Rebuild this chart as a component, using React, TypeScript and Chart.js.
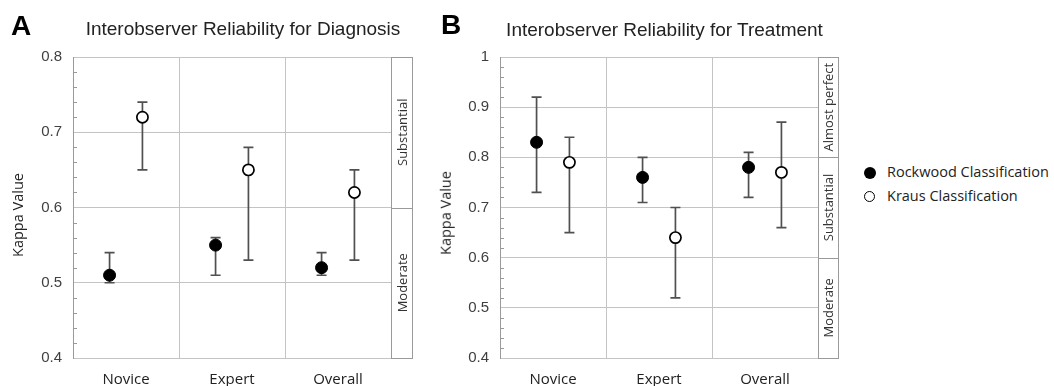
import React, { useEffect, useRef } from 'react';
import { Chart, registerables } from 'chart.js';

Chart.register(...registerables);

// ---------- data ----------
const categories = ['Novice', 'Expert', 'Overall'];
const seriesNames = ['Rockwood Classification', 'Kraus Classification'];

const diagRockwood = [0.51, 0.55, 0.52];
const diagRockwoodLow = [0.5, 0.51, 0.51];
const diagRockwoodHigh = [0.54, 0.56, 0.54];
const diagKraus = [0.72, 0.65, 0.62];
const diagKrausLow = [0.65, 0.53, 0.53];
const diagKrausHigh = [0.74, 0.68, 0.65];

const treatRockwood = [0.83, 0.76, 0.78];
const treatRockwoodLow = [0.73, 0.71, 0.72];
const treatRockwoodHigh = [0.92, 0.8, 0.81];
const treatKraus = [0.79, 0.64, 0.77];
const treatKrausLow = [0.65, 0.52, 0.66];
const treatKrausHigh = [0.84, 0.7, 0.87];

const diagYTicks = [0.4, 0.5, 0.6, 0.7, 0.8];
const treatYTicks = [0.4, 0.5, 0.6, 0.7, 0.8, 0.9, 1];

const diagBandLabels = ['Moderate', 'Substantial'];
const diagBandEdges = [0.4, 0.6, 0.8];
const treatBandLabels = ['Moderate', 'Substantial', 'Almost perfect'];
const treatBandEdges = [0.4, 0.6, 0.8, 1.0];

// ---------- styles ----------
const GRID = '#c4c4c4';
const AXIS = '#9a9a9a';
const BAR = '#505050';
const SANS = '"Liberation Sans", Arial, sans-serif';
const CAL = '"Open Sans", sans-serif';
const GROUP_OFFSET = 0.155;

const errorBarsPlugin = {
  id: 'errorBars',
  beforeDatasetsDraw(chart: any) {
    const ctx = chart.ctx;
    const y = chart.scales.y;
    ctx.save();
    ctx.strokeStyle = BAR;
    ctx.lineWidth = 1.7;
    chart.data.datasets.forEach((ds: any, di: number) => {
      const meta = chart.getDatasetMeta(di);
      meta.data.forEach((pt: any, i: number) => {
        const x = pt.x;
        const yl = y.getPixelForValue(ds.errLow[i]);
        const yh = y.getPixelForValue(ds.errHigh[i]);
        ctx.beginPath();
        ctx.moveTo(x, yl);
        ctx.lineTo(x, yh);
        ctx.moveTo(x - 5, yl);
        ctx.lineTo(x + 5, yl);
        ctx.moveTo(x - 5, yh);
        ctx.lineTo(x + 5, yh);
        ctx.stroke();
      });
    });
    ctx.restore();
  },
};

const minorTicksPlugin = {
  id: 'minorTicks',
  afterDraw(chart: any, _args: any, opts: any) {
    const ctx = chart.ctx;
    const y = chart.scales.y;
    const left = chart.chartArea.left;
    ctx.save();
    ctx.strokeStyle = AXIS;
    ctx.lineWidth = 1;
    const n = Math.round((y.max - y.min) / opts.step);
    for (let k = 1; k < n; k++) {
      if (k % 5 === 0) continue;
      const py = Math.round(y.getPixelForValue(y.min + k * opts.step)) + 0.5;
      ctx.beginPath();
      ctx.moveTo(left, py);
      ctx.lineTo(left + 4, py);
      ctx.stroke();
    }
    ctx.restore();
  },
};

const bandsPlugin = {
  id: 'bands',
  afterDraw(chart: any, _args: any, opts: any) {
    const ctx = chart.ctx;
    const y = chart.scales.y;
    const { right, top, bottom } = chart.chartArea;
    const w = opts.width;
    ctx.save();
    ctx.strokeStyle = AXIS;
    ctx.lineWidth = 1;
    const x0 = Math.round(right) + 0.5;
    ctx.strokeRect(x0, Math.round(top) + 0.5, w, Math.round(bottom) - Math.round(top));
    opts.edges.forEach((e: number) => {
      const py = Math.round(y.getPixelForValue(e)) + 0.5;
      ctx.beginPath();
      ctx.moveTo(x0, py);
      ctx.lineTo(x0 + w, py);
      ctx.stroke();
    });
    ctx.fillStyle = '#333';
    ctx.font = `13px ${CAL}`;
    ctx.textAlign = 'center';
    ctx.textBaseline = 'middle';
    opts.labels.forEach((lab: string, i: number) => {
      const cy = (y.getPixelForValue(opts.edges[i]) + y.getPixelForValue(opts.edges[i + 1])) / 2;
      ctx.save();
      ctx.translate(x0 + w / 2 + 1, cy);
      ctx.rotate(-Math.PI / 2);
      ctx.fillText(lab, 0, 0);
      ctx.restore();
    });
    ctx.restore();
  },
};

type PanelProps = {
  left: number;
  width: number;
  yAxisWidth: number;
  plotRight: number;
  bandWidth: number;
  yMin: number;
  yMax: number;
  yTicks: number[];
  rock: number[];
  rockLow: number[];
  rockHigh: number[];
  kraus: number[];
  krausLow: number[];
  krausHigh: number[];
  bandLabels: string[];
  bandEdges: number[];
};

function Panel(p: PanelProps) {
  const ref = useRef<HTMLCanvasElement | null>(null);
  useEffect(() => {
    if (!ref.current) return;
    const chart = new Chart(ref.current, {
      type: 'scatter',
      data: {
        datasets: [
          {
            label: seriesNames[0],
            data: p.rock.map((v, i) => ({ x: i - GROUP_OFFSET, y: v })),
            errLow: p.rockLow,
            errHigh: p.rockHigh,
            pointRadius: 6,
            pointBackgroundColor: '#000',
            pointBorderColor: '#000',
            pointBorderWidth: 1,
          } as any,
          {
            label: seriesNames[1],
            data: p.kraus.map((v, i) => ({ x: i + GROUP_OFFSET, y: v })),
            errLow: p.krausLow,
            errHigh: p.krausHigh,
            pointRadius: 5.6,
            pointBackgroundColor: '#fff',
            pointBorderColor: '#000',
            pointBorderWidth: 1.7,
          } as any,
        ],
      },
      options: {
        responsive: false,
        animation: false,
        devicePixelRatio: 1,
        layout: { padding: { left: 0, right: p.width - p.plotRight, top: 57, bottom: 0 } },
        plugins: {
          legend: { display: false },
          tooltip: { enabled: false },
          minorTicks: { step: 0.02 },
          bands: { width: p.bandWidth, labels: p.bandLabels, edges: p.bandEdges },
        } as any,
        scales: {
          x: {
            type: 'linear',
            min: -0.5,
            max: 2.5,
            afterBuildTicks: (s: any) => {
              s.ticks = categories.map((_, i) => ({ value: i }));
            },
            afterFit: (s: any) => {
              s.height = 28;
            },
            ticks: {
              callback: (v: any) => categories[Math.round(v)],
              font: { family: CAL, size: 15 },
              color: '#222',
              padding: 13,
              autoSkip: false,
              maxRotation: 0,
            },
            grid: { offset: true, color: GRID, drawTicks: false, lineWidth: 1 },
            border: { display: false },
          },
          y: {
            type: 'linear',
            min: p.yMin,
            max: p.yMax,
            afterBuildTicks: (s: any) => {
              s.ticks = p.yTicks.map((v) => ({ value: v }));
            },
            afterFit: (s: any) => {
              s.width = p.yAxisWidth;
            },
            ticks: {
              font: { family: SANS, size: 15 },
              color: '#404040',
              padding: 11,
              callback: (v: any) => String(Math.round(Number(v) * 10) / 10),
            },
            grid: { color: GRID, drawTicks: false, lineWidth: 1 },
            border: { color: AXIS, width: 1 },
          },
        },
      } as any,
      plugins: [errorBarsPlugin, minorTicksPlugin, bandsPlugin],
    });
    return () => chart.destroy();
  }, []);
  return (
    <canvas
      ref={ref}
      width={p.width}
      height={386}
      style={{ position: 'absolute', left: p.left, top: 0, width: p.width, height: 386 }}
    />
  );
}

const abs = (o: any) => ({ position: 'absolute' as const, whiteSpace: 'nowrap' as const, ...o });

export default function App() {
  return (
    <div
      style={{
        position: 'fixed',
        left: 0,
        top: 0,
        width: 1054,
        height: 386,
        background: '#fff',
        overflow: 'hidden',
      }}
    >
      <Panel
        left={0}
        width={430}
        yAxisWidth={73}
        plotRight={391}
        bandWidth={21}
        yMin={0.4}
        yMax={0.8}
        yTicks={diagYTicks}
        rock={diagRockwood}
        rockLow={diagRockwoodLow}
        rockHigh={diagRockwoodHigh}
        kraus={diagKraus}
        krausLow={diagKrausLow}
        krausHigh={diagKrausHigh}
        bandLabels={diagBandLabels}
        bandEdges={diagBandEdges}
      />
      <Panel
        left={430}
        width={430}
        yAxisWidth={70}
        plotRight={388}
        bandWidth={20}
        yMin={0.4}
        yMax={1.0}
        yTicks={treatYTicks}
        rock={treatRockwood}
        rockLow={treatRockwoodLow}
        rockHigh={treatRockwoodHigh}
        kraus={treatKraus}
        krausLow={treatKrausLow}
        krausHigh={treatKrausHigh}
        bandLabels={treatBandLabels}
        bandEdges={treatBandEdges}
      />

      <div style={abs({ left: 11, top: 12, font: `bold 28px/28px ${SANS}`, color: '#000' })}>A</div>
      <div style={abs({ left: 441, top: 11, font: `bold 28px/28px ${SANS}`, color: '#000' })}>B</div>
      <div
        style={abs({
          left: 243,
          top: 19,
          transform: 'translateX(-50%)',
          font: `19px/19px ${SANS}`,
          color: '#222',
        })}
      >
        Interobserver Reliability for Diagnosis
      </div>
      <div
        style={abs({
          left: 664.5,
          top: 20,
          transform: 'translateX(-50%)',
          font: `19px/19px ${SANS}`,
          color: '#222',
        })}
      >
        Interobserver Reliability for Treatment
      </div>
      <div
        style={abs({
          left: 17.5,
          top: 215,
          transform: 'translate(-50%, -50%) rotate(-90deg)',
          font: `14.5px/14.5px ${CAL}`,
          color: '#222',
        })}
      >
        Kappa Value
      </div>
      <div
        style={abs({
          left: 445.5,
          top: 213,
          transform: 'translate(-50%, -50%) rotate(-90deg)',
          font: `14.5px/14.5px ${CAL}`,
          color: '#222',
        })}
      >
        Kappa Value
      </div>

      <div
        style={abs({
          left: 864,
          top: 167,
          width: 12,
          height: 12,
          borderRadius: '50%',
          background: '#000',
        })}
      />
      <div
        style={abs({
          left: 864,
          top: 191,
          width: 9.4,
          height: 9.4,
          borderRadius: '50%',
          border: '1.8px solid #000',
          background: '#fff',
        })}
      />
      <div style={abs({ left: 887, top: 164.8, font: `14.5px/14.5px ${CAL}`, color: '#222' })}>
        {seriesNames[0]}
      </div>
      <div style={abs({ left: 887, top: 189.4, font: `14.5px/14.5px ${CAL}`, color: '#222' })}>
        {seriesNames[1]}
      </div>
    </div>
  );
}
